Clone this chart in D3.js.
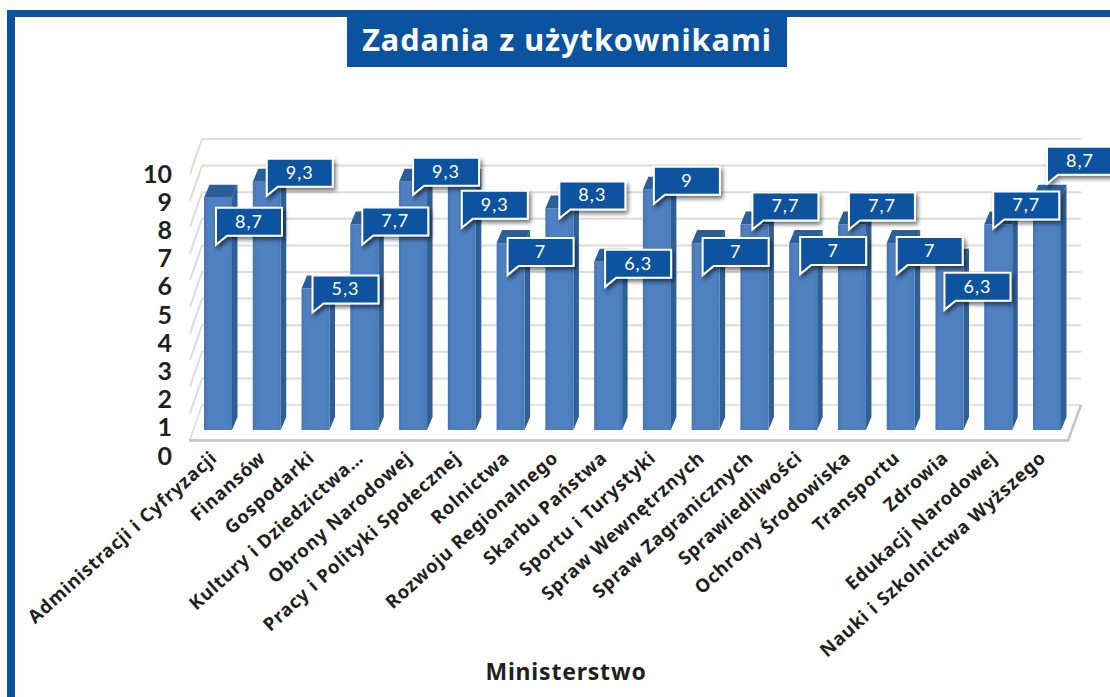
<!DOCTYPE html>
<html><head><meta charset="utf-8">
<script src="https://cdn.jsdelivr.net/npm/d3@7"></script>
<style>html,body{margin:0;padding:0;background:#fff}svg{display:block}text{font-family:"Noto Sans",sans-serif}</style>
</head><body><svg id="c" width="1110" height="697"></svg>
<script>
const categories=["Administracji i Cyfryzacji","Finansów","Gospodarki","Kultury i Dziedzictwa…","Obrony Narodowej","Pracy i Polityki Społecznej","Rolnictwa","Rozwoju Regionalnego","Skarbu Państwa","Sportu i Turystyki","Spraw Wewnętrznych","Spraw Zagranicznych","Sprawiedliwości","Ochrony Środowiska","Transportu","Zdrowia","Edukacji Narodowej","Nauki i Szkolnictwa Wyższego"];
const values=[8.7,9.3,5.3,7.7,9.3,9.3,7,8.3,6.3,9,7,7.7,7,7.7,7,6.3,7.7,8.7];
const yTicks=[0,1,2,3,4,5,6,7,8,9,10];
const title="Zadania z użytkownikami";
const xTitle="Ministerstwo";
const labelDx=[12,14,11,12,14,14,11,14,11,11,11,12,11,11,10,9,9,14];
const labelDy=[10,-23,-13,-17,-24,9,-5,-27,-12,-23,-5,-32,-6,-32,-6,11,-33,-51];

const BLUE="#0b539f",barW=28,dX=5.5,dY=13,wallDX=12,wallDY=35;
const svg=d3.select("#c");
const defs=svg.append("defs");
const sh=defs.append("filter").attr("id","sh").attr("x","-20%").attr("y","-20%").attr("width","150%").attr("height","160%");
sh.append("feDropShadow").attr("dx",2).attr("dy",3).attr("stdDeviation",2).attr("flood-color","#000").attr("flood-opacity",.55);
const soft=defs.append("filter").attr("id","soft");
soft.append("feGaussianBlur").attr("stdDeviation",.7);
const g1=defs.append("linearGradient").attr("id","front");
[[0,"#4676b2"],[.15,"#4f80c0"],[.85,"#4f80c0"],[1,"#467ab6"]].forEach(s=>g1.append("stop").attr("offset",s[0]).attr("stop-color",s[1]));

svg.append("rect").attr("width",1110).attr("height",697).attr("fill","#fbfbfb");
svg.append("rect").attr("x",7).attr("y",10).attr("width",1103).attr("height",687).attr("fill",BLUE);
svg.append("rect").attr("x",15).attr("y",17).attr("width",1095).attr("height",680).attr("fill","#fff");
svg.append("rect").attr("x",347).attr("y",17).attr("width",440).attr("height",50).attr("fill",BLUE);
svg.append("text").attr("x",567).attr("y",51).attr("text-anchor","middle").attr("fill","#fff")
  .attr("font-size",30.6).attr("font-weight",700).attr("letter-spacing",1).text(title);

const x=d3.scalePoint().domain(categories).range([204,1033]);
const y=d3.scaleLinear().domain([0,10]).range([430,163]);
const yBack=d3.scaleLinear().domain([0,10]).range([405,139]);
const yAxisScale=d3.scaleLinear().domain([0,10]).range([456,174]);

// walls + floor
const chart=svg.append("g").attr("filter","url(#soft)");
chart.selectAll("path.grid").data(yTicks.slice(1)).join("path").attr("class","grid").attr("fill","none")
  .attr("stroke","#dedbd8").attr("stroke-width",2)
  .attr("d",d=>`M190,${yBack(d)+wallDY}L202,${yBack(d)}L1081,${yBack(d)}`);
chart.append("path").attr("d","M190,440L202,405L1081,405L1068,440Z").attr("fill","#fff").attr("stroke","#dedbd8").attr("stroke-width",1.5);
chart.append("path").attr("d","M189,440.5L1068,440.5L1081,405").attr("fill","none").attr("stroke","#c4c4c4").attr("stroke-width",2.5);

// bars
const bars=chart.selectAll("g.bar").data(categories).join("g").attr("class","bar");
bars.append("path").attr("fill","#2f5f97").attr("d",(c,i)=>{const a=x(c)+barW,t=y(values[i]);return `M${a},430L${a+dX},${430-dY}L${a+dX},${t-dY}L${a},${t}Z`;});
bars.append("path").attr("fill","#2c5f9a").attr("d",(c,i)=>{const a=x(c),t=y(values[i]);return `M${a},${t}L${a+dX},${t-dY}L${a+barW+dX},${t-dY}L${a+barW},${t}Z`;});
bars.append("rect").attr("fill","url(#front)").attr("x",c=>x(c)).attr("width",barW).attr("y",(c,i)=>y(values[i])).attr("height",(c,i)=>430-y(values[i]));

// value axis
const ya=svg.append("g").attr("transform","translate(172,0)").call(d3.axisLeft(yAxisScale).tickValues(yTicks).tickSize(0).tickPadding(0));
ya.select(".domain").remove();
ya.selectAll("text").attr("font-size",25).attr("font-weight",700).attr("fill","#231f20").style("font-family","Lato,sans-serif");

// category axis
const xa=svg.append("g").attr("transform","translate(5,450)").call(d3.axisBottom(x).tickSize(0).tickPadding(0));
xa.select(".domain").remove();
xa.selectAll("text").attr("font-size",18.5).attr("font-weight",700).attr("fill","#231f20").attr("text-anchor","end")
  .attr("letter-spacing",.75).style("font-family",'"Noto Sans",sans-serif')
  .attr("transform","rotate(-42)").attr("dx",0).attr("dy","0.7em");

svg.append("text").attr("x",566).attr("y",680).attr("text-anchor","middle").attr("font-size",23).attr("font-weight",700)
  .attr("fill","#231f20").attr("letter-spacing",.8).text(xTitle);

// callouts
const fmt=v=>String(v).replace(".",",");
const w=66,h=28;
const cs=svg.selectAll("g.call").data(values).join("g").attr("class","call")
  .attr("transform",(v,i)=>`translate(${x(categories[i])+labelDx[i]},${y(v)+labelDy[i]})`);
cs.append("path").attr("d",`M0,0H${w}V${h}H11L0,${h+9}Z`).attr("fill",BLUE).attr("stroke","#fff").attr("stroke-width",2).attr("filter","url(#sh)");
cs.append("text").attr("x",w/2).attr("y",20).attr("text-anchor","middle").attr("fill","#fff").attr("font-size",18)
  .attr("letter-spacing",1).style("font-family","Lato,sans-serif").text(fmt);
</script></body></html>
